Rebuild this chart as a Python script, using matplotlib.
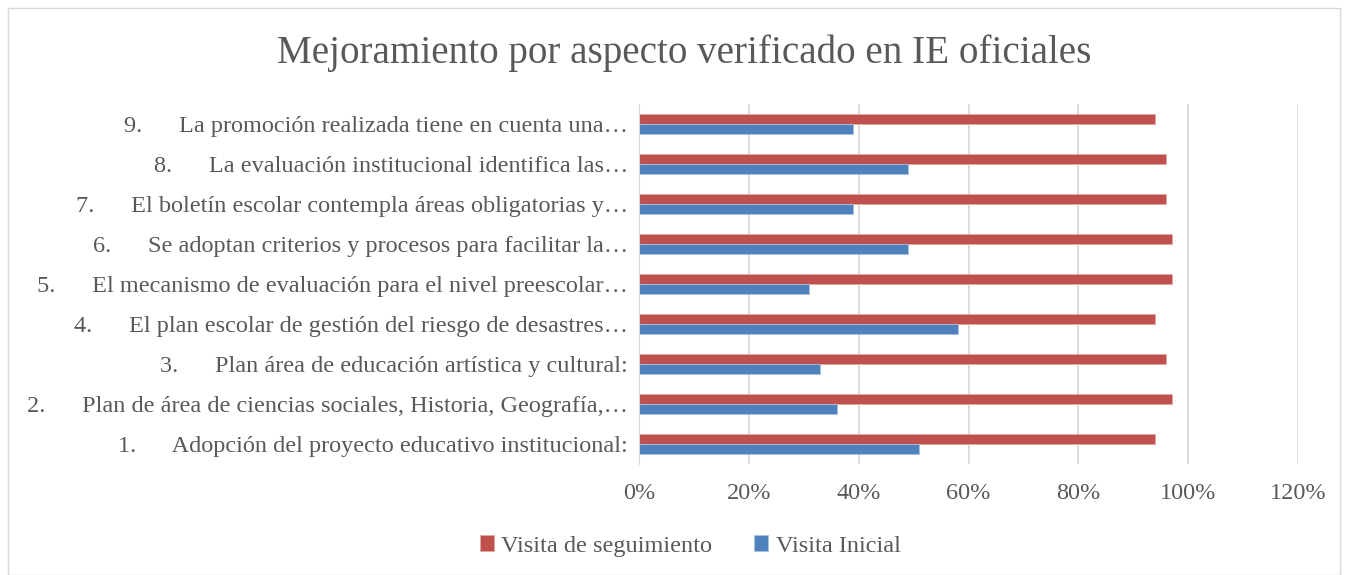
import numpy as np
import matplotlib.pyplot as plt
from matplotlib.patches import Rectangle
from matplotlib.ticker import PercentFormatter

plt.rcParams['font.family'] = ['Liberation Serif', 'DejaVu Serif']

# datos (de abajo hacia arriba)
categorias = [
    "1.      Adopción del proyecto educativo institucional:",
    "2.      Plan de área de ciencias sociales, Historia, Geografía,…",
    "3.      Plan área de educación artística y cultural:",
    "4.      El plan escolar de gestión del riesgo de desastres…",
    "5.      El mecanismo de evaluación para el nivel preescolar…",
    "6.      Se adoptan criterios y procesos para facilitar la…",
    "7.      El boletín escolar contempla áreas obligatorias y…",
    "8.      La evaluación institucional identifica las…",
    "9.      La promoción realizada tiene en cuenta una…",
]
seguimiento = [94, 97, 96, 94, 97, 97, 96, 96, 94]
inicial = [51, 36, 33, 58, 31, 49, 39, 49, 39]

gris = "#595959"
rojo = "#C0504D"
azul = "#4F81BD"

fig = plt.figure(figsize=(13.47, 5.75), dpi=100)
ax = fig.add_axes([639/1347, 1-464/575, (1298-639)/1347, 360/575])

y = np.arange(len(categorias))
h = 0.25
ax.barh(y + h/2, seguimiento, height=h, color=rojo, label="Visita de seguimiento",
        edgecolor="#E3A9A7", linewidth=0.6)
ax.barh(y - h/2, inicial, height=h, color=azul, label="Visita Inicial",
        edgecolor="#A9C0DE", linewidth=0.6)

ax.set_xlim(0, 120)
ax.set_ylim(-0.5, len(categorias) - 0.5)
ax.set_xticks(np.arange(0, 121, 20))
ax.xaxis.set_major_formatter(PercentFormatter(decimals=0))
ax.set_yticks(y)
ax.set_yticklabels(categorias)
ax.tick_params(axis='both', length=0, labelcolor=gris, labelsize=17.5)
ax.tick_params(axis='x', pad=14)
ax.tick_params(axis='y', pad=8)
ax.grid(axis='x', color="#D9D9D9", linewidth=1.3)
ax.set_axisbelow(True)
for s in ['top', 'right', 'bottom']:
    ax.spines[s].set_visible(False)
ax.spines['left'].set_color("#D9D9D9")

fig.text(0.508, 0.908, "Mejoramiento por aspecto verificado en IE oficiales",
         ha='center', va='center', fontsize=28.2, color=gris)

fig.legend(loc='center', bbox_to_anchor=(690/1347, 1-546/575), ncol=2, frameon=False,
           fontsize=17.5, labelcolor=gris, handlelength=0.6, handleheight=0.6,
           handletextpad=0.3, columnspacing=1.7)

fig.patches.append(Rectangle((8/1347, 0), 1332/1347, 1-8/575, transform=fig.transFigure,
                             fill=False, edgecolor="#D9D9D9", linewidth=1))

fig.savefig("out.png", dpi=100)
